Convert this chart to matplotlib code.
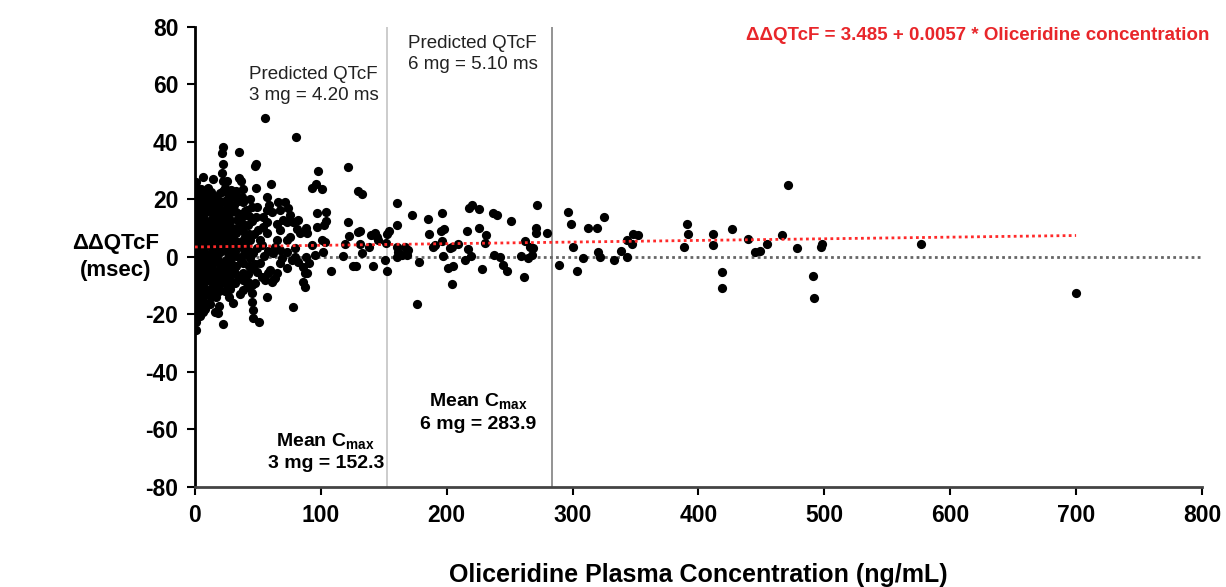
import numpy as np
import matplotlib
matplotlib.use('Agg')
import matplotlib.pyplot as plt

plt.rcParams['font.family'] = ['Liberation Sans', 'DejaVu Sans']
plt.rcParams['mathtext.fontset'] = 'custom'
plt.rcParams['mathtext.rm'] = 'Liberation Sans'
plt.rcParams['mathtext.bf'] = 'Liberation Sans:bold'
plt.rcParams['axes.unicode_minus'] = False

# (concentration ng/mL, ddQTcF msec)
low_pts = [
    # x ~ 0-2
    (0.5, -25.5), (1, -22.5), (0.5, -20), (1.5, -18), (0.8, -16), (1.2, -14), (0.6, -12), (1.8, -10),
    (0.4, -8), (1.1, -6), (0.7, -4), (1.6, -2), (0.3, 0), (1.3, 2), (0.9, 4), (0.5, 6), (1.7, 8),
    (0.8, 10), (1.2, 12), (0.4, 14), (1.5, 16), (0.9, 18), (0.6, 20), (1.4, 22), (0.8, 24), (1.0, 26),
    # x ~ 3-6
    (4, -20.5), (3.5, -17), (5, -15), (4.2, -13), (3.8, -11), (5.5, -9), (4.5, -7), (3.2, -5),
    (5.8, -3), (4.1, -1), (3.6, 1), (5.2, 3), (4.4, 5), (3.9, 7), (5.6, 9), (4.7, 11), (3.3, 13),
    (5.1, 15), (4.3, 17), (3.7, 19), (5.4, 21), (4.8, 23.5),
    # x ~ 7-10
    (8, -18), (7.5, -15.5), (9, -13), (8.3, -11), (7.2, -9), (9.5, -7), (8.6, -5), (7.8, -3),
    (9.2, -1), (8.1, 1), (7.4, 3), (9.7, 5), (8.5, 7), (7.6, 9), (9.1, 11), (8.2, 13), (7.3, 15),
    (9.4, 17), (8.7, 19), (7.9, 22), (6.6, 27.7),
    # x ~ 11-15
    (12, -16.5), (13, -14), (11.5, -12), (14, -10), (12.5, -8), (13.5, -6), (11.2, -4), (14.5, -2),
    (12.8, 0), (13.2, 2), (11.7, 4), (14.2, 6), (12.3, 8), (13.7, 10), (11.4, 12), (14.6, 14),
    (12.6, 16), (13.4, 18), (11.9, 20), (14.5, 27), (13, 22.5),
    # x ~ 16-22
    (17, -14), (19, -12), (18, -9.5), (20, -7), (17.5, -5), (21, -3), (18.5, -1), (16.5, 1),
    (20.5, 2.5), (19, 4), (17, 6), (21.5, 7.5), (18, 9), (20, 11), (16.5, 13), (19.5, 14.5),
    (22, 16), (18, 17.5), (20.5, 19), (17, 21), (22.5, 23), (19, -17), (16, -19), (18.5, -19.6),
    (22, -23.3),
    # x ~ 23-30
    (24, -12), (26, -10), (28, -8), (25, -6), (27.5, -4), (23.5, -2), (29, 0), (26, 1.5), (24, 3.5),
    (28, 5), (25.5, 7), (23, 9), (29.5, 10), (27, 12), (24.5, 14), (28.5, 15.5), (26, 17.5),
    (23.5, 19.5), (29, 21), (25, 22.5), (22.5, 26.5), (25.2, 26.5), (22.5, 32.3), (21.7, 29.3),
    (22.5, 38.4), (21.2, 36.3), (27, -14), (30, -16),
    # x ~ 31-40
    (32, -9), (35, -7), (38, -5.5), (33, -3), (36.5, -1), (39, 1), (31.5, 2), (34, 4), (37.5, 5.5),
    (40, 7), (32.5, 8.5), (35.5, 10), (38.5, 11.5), (33.5, 13), (36, 15), (39.5, 16), (31, 18),
    (34.5, 19.5), (37, 21), (35, 36.4), (35.2, 27.4), (36.5, 26.5), (33, 23), (38.4, -11.5),
    (41, -10.3), (36, -13),
    # x ~ 41-50
    (42, -6), (45, -4), (48, -2.5), (43.5, -0.5), (46.5, 1.5), (49.5, 3), (41.5, 4.5), (44, 6),
    (47, 8), (50, 9.5), (42.5, 11), (45.5, 12.5), (48.5, 14), (45, 17.5), (41, 16.3), (49, 17.5),
    (44, 20), (47.7, 31.7), (48.5, 32.2), (48.5, 23.9), (42.3, -8.6), (45, -9.7), (47.7, -9.2),
    (49, -5.1), (45, -12.6), (45, -15.5), (46.3, -18.4), (46.3, -21.3), (50.8, -22.5),
    # x ~ 51-60
    (52, -2), (55, 0.5), (58, 2), (53.5, 4), (51.6, 5.9), (56.9, 8.2), (54.3, 10.5), (57, 12),
    (54.3, 13.8), (56.9, 16.3), (59, 18), (57.4, 21), (60.1, 25.4), (55.6, 48.2), (59.6, -4.5),
    (58.2, -5.7), (55.6, -8.0), (56.9, -13.8), (53, -7), (60.9, 15.8),
    # x ~ 61-70
    (62.2, 1.3), (63.6, 3.6), (67.5, 2.4), (64.9, 11.5), (67.5, 9.4), (67.5, 16.3), (65, 6),
    (69, -0.5), (67.5, -2.2), (64.9, -5.7), (62.2, -8.0), (60.9, -8.6), (63.6, -7.4), (70, 13),
    (66, 19),
    # x ~ 71-80
    (71.5, 19.2), (74.1, 16.9), (75.5, 14.6), (72.8, 12.3), (78.1, 12.3), (80.8, 9.6), (75.5, 7.1),
    (72.8, 5.9), (72.8, 1.8), (79.4, 3.0), (79.4, 0.1), (72.8, -3.9), (78.1, -17.3), (80, 41.6),
    (77, -1),
    # x ~ 81-105
    (82.1, 12.9), (83.4, 8.2), (88.2, 10.0), (88.7, 8.2), (88.2, 0.1), (87.4, -5.7), (85.5, -3.4),
    (82.1, -1.6), (86, -8.6), (87.4, -10.3), (88.7, -5.7), (92.7, 23.9), (96.1, 25.4), (100.6, 23.5),
    (98, 29.8), (96.7, 15.2), (103.8, 15.5), (96.7, 10.5), (102.5, 11.1), (103.8, 12.6),
    (100.6, 5.9), (103.3, 5.3), (101.9, 1.8), (95.3, 0.7), (93, 4), (91, -2),
]

# extra subjects in the solid black block near the origin
dense_pts = [
    (2.5, -17.3), (2.4, -12.8), (2.7, -9.1), (2.3, -4.7), (2.6, -0.8), (2.5, 3.2), (2.8, 7.4),
    (2.4, 11.1), (2.6, 15.3), (2.5, 19.2), (6.1, -19.2), (5.9, -14.1), (6.3, -10.2), (6.0, -5.8),
    (6.2, -2.1), (5.8, 2.3), (6.1, 6.2), (6.4, 9.8), (5.9, 14.2), (6.2, 18.1), (6.0, 22.3),
    (10.4, -16.2), (10.7, -11.8), (10.3, -8.1), (10.6, -3.9), (10.5, 0.2), (10.8, 4.1),
    (10.2, 8.3), (10.6, 11.9), (10.4, 16.1), (10.7, 20.2), (10.3, 24.1), (15.2, -12.9),
    (14.8, -9.2), (15.3, -4.8), (15.0, -1.1), (15.4, 3.2), (14.9, 7.1), (15.1, 10.8),
    (15.3, 15.2), (14.8, 19.1), (19.4, -10.1), (19.7, -5.9), (19.2, -2.2), (19.6, 1.9),
    (19.3, 6.2), (19.8, 9.8), (19.5, 13.9), (19.2, 18.2), (19.7, 22.1), (24.2, -8.8),
    (23.8, -5.1), (24.3, -0.9), (24.0, 3.1), (23.7, 7.2), (24.4, 11.1), (24.1, 15.2),
    (23.9, 19.1), (24.2, 24.1), (28.1, -11.2), (27.8, -5.9), (28.3, -2.1), (27.9, 2.2),
    (28.2, 7.1), (28.0, 12.9), (27.7, 18.1), (28.4, 23.2), (33.2, -6.1), (32.8, 0.2),
    (33.1, 5.1), (33.3, 10.2), (32.9, 15.8), (33.2, 21.1), (38.1, -7.9), (37.8, -2.1),
    (38.2, 3.1), (38.0, 8.9), (37.9, 14.1), (38.3, 19.2), (38.1, 23.8), (43.1, -3.1),
    (42.8, 2.2), (43.2, 8.1), (42.9, 14.2),
    (1.9, -15.1), (2.1, -7.0), (1.8, 1.1), (2.2, 9.3), (1.9, 17.2), (7.9, -12.1), (8.1, -6.9),
    (8.0, 0.0), (7.8, 5.1), (8.2, 11.8), (8.0, 16.0), (12.9, -11.0), (13.1, -2.9), (12.8, 5.1),
    (13.2, 12.9), (17.2, -7.9), (17.0, -0.1), (17.3, 8.0), (17.1, 15.9), (21.8, -5.1),
    (22.1, 4.8), (21.9, 12.2), (26.3, -3.2), (26.1, 9.1), (26.4, 20.1), (30.8, -4.1), (31.1, 6.0),
]

mid_pts = [
    (108.3, -4.8), (117.8, 0.5), (119.2, 4.5), (121.3, 31.4), (121.3, 12.1), (122.3, 7.3),
    (125.8, -3.1), (127.6, -3.1), (129.2, 23.1), (132.9, 21.8), (129.2, 8.7), (131.1, 9.1),
    (131.1, 4.5), (132.9, 1.3), (138.2, 3.6), (139.8, 7.5), (143, 8.2), (144.3, 7.1), (145.6, 5.9),
    (141.7, -3.1), (150.9, -1.0), (152.3, -4.8), (152.3, 8.0), (154.1, 9.1), (151.7, 4.8),
    (160.2, 18.7), (160.2, 11.0), (160.2, 3.6), (161.5, 1.8), (160.2, 0.1), (164.2, 0.7),
    (166.8, 3.6), (169.5, 2.4), (168.2, 0.7), (172.1, 14.7), (178, -1.6), (176.1, -16.3),
    (184.8, 13.3), (185.9, 8.0), (196.5, 15.2), (195.4, 9.1), (197.6, 9.6), (189.3, 3.6),
    (190.7, 4.2), (196, 5.7), (197.3, 0.5), (200.7, -3.9), (202.6, 3.0), (203.9, -9.4),
    (205.2, -3.1), (203.9, 3.4), (209.2, 4.5), (217.9, 16.9), (219.8, 18.1), (225.9, 16.7),
    (215.8, 8.9), (225.9, 10.1), (231.6, 7.5), (230.4, 5.0), (217.1, 2.7), (214.5, -1.0),
    (219, 0.3), (227.7, -4.3), (236.5, 15.4), (240.2, 14.7), (251, 12.4), (237.8, 0.7),
    (242.3, -0.1), (244.9, -2.8), (247.6, -4.8), (272, 18.2), (270.9, 10.1), (270.9, 8.5),
    (279.4, 8.5), (262.2, 5.7), (266.1, 3.6), (268.3, 3.0), (258.7, 0.3), (264.8, -0.5),
    (267.5, 0.7), (261.4, -7.1), (289.4, -2.8), (296.6, 15.8), (298.7, 11.5), (300.6, 3.6),
    (303.7, -4.8), (308.5, -0.5), (312.2, 10.1), (319.6, 10.1), (324.9, 13.8), (320.4, 1.8),
    (321.7, -0.1), (332.9, -1.0), (338.4, 2.2), (342.9, -0.1), (342.9, 5.9), (347.4, 4.4),
    (348.2, 8.0), (351.7, 7.5),
]

high_pts = [
    (388.5, 3.6), (390.6, 11.5), (391.4, 8.0), (411.8, 8.0), (411.8, 4.1), (418.7, -5.2),
    (418.7, -10.8), (426.6, 9.6), (439.3, 6.4), (444.9, 1.7), (448.8, 2.2), (454.2, 4.4),
    (466.3, 7.5), (471.1, 24.9), (478.5, 3.1), (491.2, -6.6), (491.7, -14.2), (497, 3.4),
    (498.1, 4.4), (576.5, 4.4), (700, -12.5),
]

intercept = 3.485
slope = 0.0057
fit_range = [0, 700]
cmax_3mg = 152.3
cmax_6mg = 283.9

pts = np.array(low_pts + dense_pts + mid_pts + high_pts)

fig = plt.figure(figsize=(12.26, 5.87), dpi=100)
ax = fig.add_axes([0.159, 0.1704, 0.8214, 0.7836])

ax.scatter(pts[:, 0], pts[:, 1], s=44, color='black', linewidths=0, zorder=3)

# zero line and fitted line
ax.plot([0, 800], [0, 0], color='#666666', lw=2, ls=(0, (1, 1.2)), zorder=2)
xf = np.array(fit_range)
ax.plot(xf, intercept + slope * xf, color='#ff2a2a', lw=2, ls=(0, (1, 1.2)), zorder=4)

# mean Cmax lines
ax.plot([cmax_3mg, cmax_3mg], [-80, 80], color='#c8c8c8', lw=1.3, zorder=1)
ax.plot([cmax_6mg, cmax_6mg], [-80, 80], color='#8a8a8a', lw=1.3, zorder=1)

ax.text(42.9, 59.8, 'Predicted QTcF\n3 mg = 4.20 ms', fontsize=13.5, color='#222222',
        ha='left', va='center', linespacing=1.25)
ax.text(169.2, 70.6, 'Predicted QTcF\n6 mg = 5.10 ms', fontsize=13.5, color='#222222',
        ha='left', va='center', linespacing=1.25)
ax.text(104, -67.8, 'Mean C$_\\mathbf{max}$\n3 mg = 152.3', fontsize=14, fontweight='bold',
        ha='center', va='center', multialignment='center', linespacing=1.25)
ax.text(225, -54, 'Mean C$_\\mathbf{max}$\n6 mg = 283.9', fontsize=14, fontweight='bold',
        ha='center', va='center', multialignment='center', linespacing=1.25)
ax.text(806, 77.2, '\u0394\u0394QTcF = 3.485 + 0.0057 * Oliceridine concentration', fontsize=13.5,
        fontweight='bold', color='#e8262a', ha='right', va='center')

ax.set_xlim(0, 800)
ax.set_ylim(-80, 80)
ax.set_xticks(np.arange(0, 801, 100))
ax.set_yticks(np.arange(-80, 81, 20))
ax.tick_params(axis='both', direction='out', length=6, width=1.5, labelsize=16.5, pad=6)
for lab in ax.get_xticklabels() + ax.get_yticklabels():
    lab.set_fontweight('bold')

for s in ['top', 'right']:
    ax.spines[s].set_visible(False)
ax.spines['left'].set_linewidth(2)
ax.spines['bottom'].set_linewidth(2)
ax.spines['bottom'].set_color('#444444')

ax.set_xlabel('Oliceridine Plasma Concentration (ng/mL)', fontsize=18, fontweight='bold')
ax.xaxis.set_label_coords(0.5, -0.165)
ax.set_ylabel('\u0394\u0394QTcF\n(msec)', fontsize=16, fontweight='bold', rotation=0,
              ha='center', va='center', linespacing=1.4)
ax.yaxis.set_label_coords(-0.079, 0.5)

fig.savefig('out.png', dpi=100)
